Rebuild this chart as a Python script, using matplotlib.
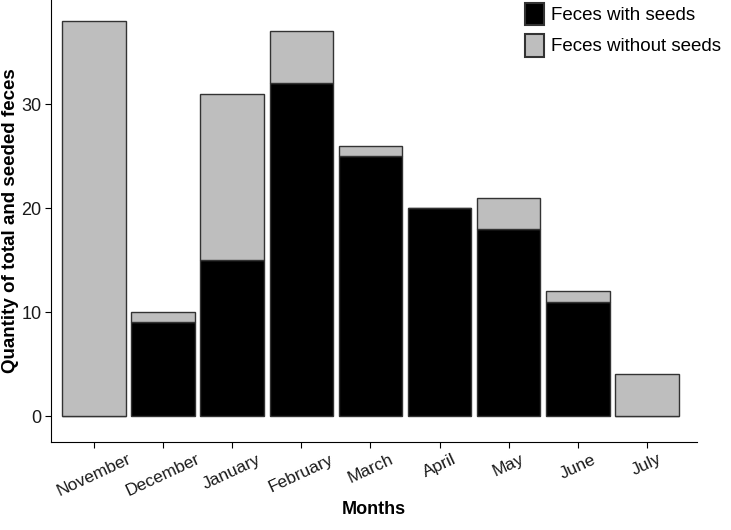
import numpy as np
import matplotlib.pyplot as plt
from matplotlib.patches import Patch

plt.rcParams['font.family'] = ['Liberation Sans', 'DejaVu Sans']

months = ['November', 'December', 'January', 'February', 'March',
          'April', 'May', 'June', 'July']
with_seeds = [0, 9, 15, 32, 25, 20, 18, 11, 0]
total = [38, 10, 31, 37, 26, 20, 21, 12, 4]
without_seeds = [t - w for t, w in zip(total, with_seeds)]

x = np.arange(len(months))

fig = plt.figure(figsize=(7.31, 5.30), dpi=100)
ax = fig.add_axes([0.070, 0.166, 0.883, 0.834])

ax.bar(x, with_seeds, width=0.92, color='black', edgecolor='#333333', linewidth=1)
ax.bar(x, without_seeds, bottom=with_seeds, width=0.92, color='#bebebe',
       edgecolor='#333333', linewidth=1)

ax.set_xlim(-0.62, 8.72)
ax.set_ylim(-2.5, 40)
ax.set_yticks([0, 10, 20, 30])
ax.set_xticks(x)
ax.set_xticklabels(months, rotation=25, ha='center', fontsize=12.5, color='#1a1a1a')
ax.tick_params(axis='y', labelsize=13, labelcolor='#1a1a1a', length=4, pad=3)
ax.tick_params(axis='x', length=4, pad=3)
ax.spines['top'].set_visible(False)
ax.spines['right'].set_visible(False)
ax.set_xlabel('Months', fontsize=13, fontweight='bold', labelpad=1)
ax.set_ylabel('Quantity of total and seeded feces', fontsize=13.5,
              fontweight='bold', labelpad=2)

handles = [Patch(facecolor='black', edgecolor='#333333', linewidth=1.5),
           Patch(facecolor='#bebebe', edgecolor='#333333', linewidth=1.5)]
fig.legend(handles, ['Feces with seeds', 'Feces without seeds'],
           loc='upper left', bbox_to_anchor=(0.700, 1.02), frameon=False,
           fontsize=13.5, handlelength=1.0, handleheight=1.5,
           handletextpad=0.4, labelspacing=0.45, borderaxespad=0.3)

fig.savefig('out.png', dpi=100)
